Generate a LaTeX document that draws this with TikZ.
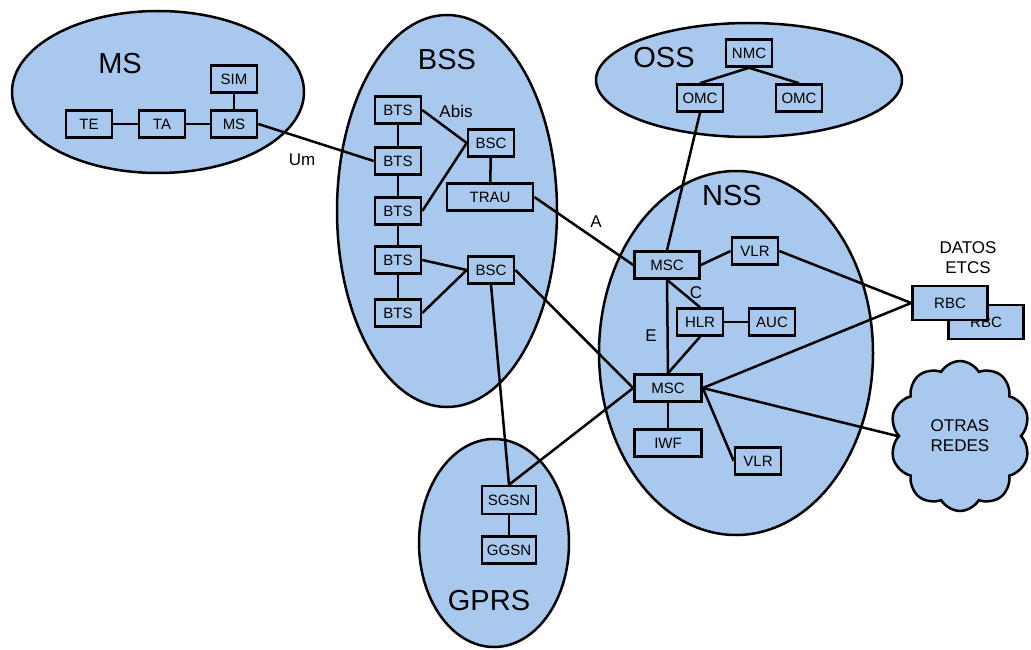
\documentclass[tikz,border=0pt]{standalone}
\usepackage{fontspec}
\setmainfont{Liberation Sans}
\usetikzlibrary{shapes.geometric,shapes.symbols}
\definecolor{fillblue}{RGB}{168,200,238}
\tikzset{
  region/.style={draw=black, line width=2.5pt, fill=fillblue, ellipse, inner sep=0pt},
  box/.style={draw=black, line width=2.6pt, fill=fillblue, minimum width=46pt, minimum height=27pt, inner sep=0pt, font=\fontsize{15}{17}\selectfont},
  big/.style={font=\fontsize{29}{32}\selectfont, inner sep=0pt},
  lbl/.style={font=\fontsize{17}{20}\selectfont, inner sep=0pt},
  link/.style={draw=black, line width=2.5pt},
}
\begin{document}
\begin{tikzpicture}[x=1pt,y=-1pt]
\useasboundingbox (0,0) rectangle (1031,650);
% regions
\node[region, minimum width=292pt, minimum height=162pt] (rMS) at (158,92) {};
\node[region, minimum width=220pt, minimum height=392pt] (rBSS) at (447,211) {};
\node[region, minimum width=306pt, minimum height=114pt] (rOSS) at (749,80) {};
\node[region, minimum width=274pt, minimum height=364pt] (rNSS) at (736,353) {};
\node[region, minimum width=150pt, minimum height=208pt] (rGPRS) at (494,543) {};
\node[draw=black, line width=2.5pt, fill=fillblue, cloud, cloud puffs=10, cloud puff arc=120, aspect=0.93, minimum width=140pt, minimum height=150pt, inner sep=0pt, align=center, font=\fontsize{17}{20}\selectfont] (cloud) at (960,436) {OTRAS\\REDES};
% region labels
\node[big] (tMS) at (120,64) {MS};
\node[big] (tBSS) at (447,60) {BSS};
\node[big] (tOSS) at (664,58) {OSS};
\node[big] (tNSS) at (732,196) {NSS};
\node[big] (tGPRS) at (489,601) {GPRS};
% boxes MS
\node[box] (te) at (89,124) {TE};
\node[box] (ta) at (162,124) {TA};
\node[box] (msb) at (234,124) {MS};
\node[box] (sim) at (234,79) {SIM};
% BSS
\node[box] (bts1) at (398,110) {BTS};
\node[box] (bts2) at (398,161) {BTS};
\node[box] (bts3) at (398,211) {BTS};
\node[box] (bts4) at (398,260) {BTS};
\node[box] (bts5) at (398,313) {BTS};
\node[box] (bsc1) at (491,143) {BSC};
\node[box, minimum width=86pt] (trau) at (490,197) {TRAU};
\node[box] (bsc2) at (491,270) {BSC};
% OSS
\node[box] (nmc) at (749,53) {NMC};
\node[box] (omc1) at (700,98) {OMC};
\node[box] (omc2) at (799,98) {OMC};
% NSS
\node[box, minimum width=65pt] (msc1) at (667,265) {MSC};
\node[box] (vlr1) at (755,251) {VLR};
\node[box] (hlr) at (700,322) {HLR};
\node[box] (auc) at (772,322) {AUC};
\node[box, minimum width=67pt] (msc2) at (668,388) {MSC};
\node[box, minimum width=67pt] (iwf) at (668,443) {IWF};
\node[box] (vlr2) at (758,461) {VLR};
% GPRS
\node[box, minimum width=54pt, minimum height=28pt] (sgsn) at (509,500) {SGSN};
\node[box, minimum width=54pt] (ggsn) at (509,550) {GGSN};
% RBC
\node[box, minimum width=75pt, minimum height=34pt] (rbc2) at (986,322) {RBC};
\node[box, minimum width=75pt, minimum height=34pt] (rbc1) at (950,303) {RBC};
\node[lbl, align=center] (datos) at (968,258) {DATOS\\ETCS};
% links
\draw[link] (te) -- (ta);
\draw[link] (ta) -- (msb);
\draw[link] (msb) -- (sim);
\draw[link] (msb.east) -- (bts2.west);
\draw[link] (bts1) -- (bts2);
\draw[link] (bts2) -- (bts3);
\draw[link] (bts3) -- (bts4);
\draw[link] (bts4) -- (bts5);
\draw[link] (bts1.east) -- (bsc1.west);
\draw[link] (bts3.east) -- (bsc1.west);
\draw[link] (bsc1) -- (trau);
\draw[link] (bts4.east) -- (bsc2.west);
\draw[link] (bts5.east) -- (bsc2.west);
\draw[link] (trau.east) -- (msc1.west);
\draw[link] (bsc2.east) -- (msc2.west);
\draw[link] (bsc2.south) -- (sgsn.north);
\draw[link] (sgsn.north) -- (msc2.west);
\draw[link] (sgsn) -- (ggsn);
\draw[link] (nmc.south) -- (omc1.north);
\draw[link] (nmc.south) -- (omc2.north);
\draw[link] (omc1.south) -- (msc1.north);
\draw[link] (msc1.east) -- (vlr1.west);
\draw[link] (msc1.south) -- (msc2.north);
\draw[link] (msc1.south) -- (hlr.north);
\draw[link] (hlr.south) -- (msc2.north);
\draw[link] (hlr) -- (auc);
\draw[link] (msc2) -- (iwf);
\draw[link] (msc2.east) -- (vlr2.west);
\draw[link] (msc2.east) -- (rbc1.west);
\draw[link] (msc2.east) -- (cloud.west);
\draw[link] (vlr1.east) -- (rbc1.west);
% interface labels
\node[lbl] (lUm) at (302,160) {Um};
\node[lbl] (lAbis) at (456,111) {Abis};
\node[lbl] (lA) at (596,222) {A};
\node[lbl] (lC) at (696,293) {C};
\node[lbl] (lE) at (651,336) {E};
\end{tikzpicture}
\end{document}
